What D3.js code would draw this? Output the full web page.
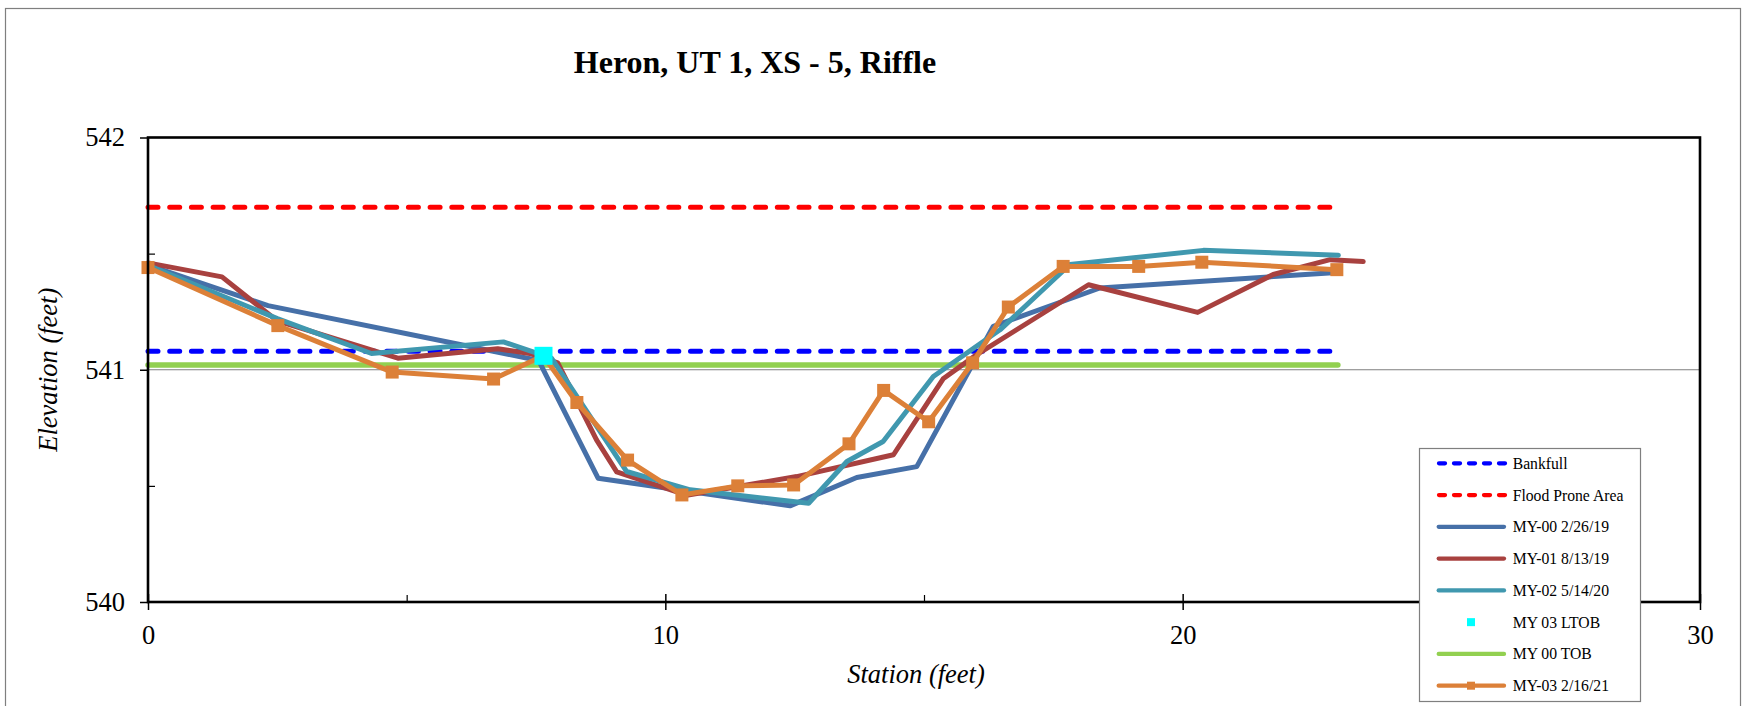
<!DOCTYPE html>
<html>
<head>
<meta charset="utf-8">
<script src="https://cdn.jsdelivr.net/npm/d3@7"></script>
<style>
  html, body { margin: 0; padding: 0; background: #fff; }
  svg { display: block; }
  text { font-family: "Liberation Serif", "Times New Roman", serif; fill: #000; }
</style>
</head>
<body>
<svg id="chart" width="1743" height="706"></svg>
<script>
// ---------------- DATA ----------------
const chartTitle = "Heron, UT 1, XS - 5, Riffle";
const xTicks = [0, 10, 20, 30];
const yTicks = [540, 541, 542];
const xMinorTicks = [5, 15, 25];
const yMinorTicks = [540.5, 541.5];

const bankfullX = [0, 23];
const bankfullY = [541.08, 541.08];
const floodX = [0, 23];
const floodY = [541.70, 541.70];
const tobX = [0, 23];
const tobY = [541.02, 541.02];

const my00X = [0, 2.32, 7.55, 8.70, 12.41, 13.70, 14.86, 16.34, 18.40, 22.98];
const my00Y = [541.45, 541.276, 541.04, 540.533, 540.414, 540.536, 540.583, 541.187, 541.352, 541.419];

const my01X = [0, 1.43, 2.5, 4.83, 6.76, 7.38, 7.92, 8.67, 9.06, 10.41, 12.54, 14.41, 15.37, 16.02, 18.18, 20.29, 21.75, 22.85, 23.49];
const my01Y = [541.46, 541.40, 541.21, 541.05, 541.09, 541.07, 541.03, 540.698, 540.56, 540.46, 540.54, 540.634, 540.961, 541.065, 541.366, 541.247, 541.41, 541.474, 541.466];

const my02X = [0, 2.5, 4.32, 6.87, 7.8, 9.25, 10.48, 12.77, 13.51, 14.21, 15.18, 16.47, 17.82, 20.40, 23.01];
const my02Y = [541.45, 541.22, 541.07, 541.12, 541.05, 540.562, 540.483, 540.425, 540.605, 540.691, 540.971, 541.172, 541.453, 541.514, 541.493];

const ltobX = [7.645];
const ltobY = [541.06];

const my03X = [0, 2.51, 4.72, 6.68, 7.64, 8.29, 9.27, 10.32, 11.40, 12.48, 13.55, 14.22, 15.09, 15.94, 16.63, 17.69, 19.15, 20.37, 22.98];
const my03Y = [541.44, 541.19, 540.99, 540.96, 541.06, 540.859, 540.611, 540.461, 540.50, 540.504, 540.681, 540.911, 540.776, 541.03, 541.27, 541.445, 541.445, 541.463, 541.431];

const legendLabels = ["Bankfull", "Flood Prone Area", "MY-00 2/26/19", "MY-01 8/13/19", "MY-02 5/14/20", "MY 03 LTOB", "MY 00 TOB", "MY-03 2/16/21"];

// ---------------- STYLE ----------------
const C = {
  bankfull: "#0000FF", flood: "#FF0000", my00: "#4670A8", my01: "#A8413F",
  my02: "#4098AF", ltob: "#00FFFF", tob: "#92D050", my03: "#DC8038"
};

const svg = d3.select("#chart");
const W = 1743, H = 706;
const plot = { left: 148, right: 1700, top: 137.5, bottom: 602 };

const x = d3.scaleLinear().domain([0, 30]).range([plot.left, plot.right]);
const y = d3.scaleLinear().domain([540, 542]).range([plot.bottom, plot.top]);

// outer frame
svg.append("rect").attr("x", 0).attr("y", 0).attr("width", W).attr("height", H).attr("fill", "#fff");
svg.append("rect").attr("x", 5.5).attr("y", 8.5).attr("width", 1735).attr("height", 740)
  .attr("fill", "none").attr("stroke", "#7f7f7f").attr("stroke-width", 1.2);

// title
svg.append("text").attr("x", 755).attr("y", 73).attr("text-anchor", "middle")
  .attr("font-size", 32).attr("font-weight", "bold").text(chartTitle);

// gridline at 541
svg.append("g").selectAll("line").data(yTicks.filter(d => d !== 540 && d !== 542)).join("line")
  .attr("x1", plot.left).attr("x2", plot.right).attr("y1", d => y(d)).attr("y2", d => y(d))
  .attr("stroke", "#7f7f7f").attr("stroke-width", 1.2);

// axes via d3
const yAxis = d3.axisLeft(y).tickValues(yTicks).tickSize(8).tickPadding(15).tickFormat(d3.format("d"));
const gy = svg.append("g").attr("transform", `translate(${plot.left},0)`).call(yAxis);
gy.select(".domain").remove();
gy.selectAll(".tick line").attr("stroke", "#000").attr("stroke-width", 1.5);
gy.selectAll(".tick text").attr("font-size", 26.5).attr("font-family", "Liberation Serif, Times New Roman, serif").attr("fill", "#000");

const yMinor = d3.axisRight(y).tickValues(yMinorTicks).tickSize(7).tickFormat("");
const gym = svg.append("g").attr("transform", `translate(${plot.left},0)`).call(yMinor);
gym.select(".domain").remove();
gym.selectAll(".tick line").attr("stroke", "#000").attr("stroke-width", 1.2);

const xAxis = d3.axisBottom(x).tickValues(xTicks).tickSize(8).tickPadding(15).tickFormat(d3.format("d"));
const gx = svg.append("g").attr("transform", `translate(0,${plot.bottom})`).call(xAxis);
gx.select(".domain").remove();
gx.selectAll(".tick line").attr("stroke", "#000").attr("stroke-width", 1.5).attr("y1", -8);
gx.selectAll(".tick text").attr("font-size", 26.5).attr("font-family", "Liberation Serif, Times New Roman, serif").attr("fill", "#000");

const xMinor = d3.axisTop(x).tickValues(xMinorTicks).tickSize(7).tickFormat("");
const gxm = svg.append("g").attr("transform", `translate(0,${plot.bottom})`).call(xMinor);
gxm.select(".domain").remove();
gxm.selectAll(".tick line").attr("stroke", "#000").attr("stroke-width", 1.2);

// axis titles
svg.append("text").attr("x", 916).attr("y", 683).attr("text-anchor", "middle")
  .attr("font-size", 26.5).attr("font-style", "italic").text("Station (feet)");
svg.append("text").attr("transform", `translate(57,${(plot.top + plot.bottom) / 2}) rotate(-90)`)
  .attr("text-anchor", "middle").attr("font-size", 26.5).attr("font-style", "italic").text("Elevation (feet)");

// series
const line = d3.line().x(d => x(d[0])).y(d => y(d[1]));
const zip = (a, b) => a.map((v, i) => [v, b[i]]);
const g = svg.append("g");

function drawLine(xs, ys, color, width, dash) {
  const p = g.append("path").datum(zip(xs, ys)).attr("d", line)
    .attr("fill", "none").attr("stroke", color).attr("stroke-width", width)
    .attr("stroke-linejoin", "round").attr("stroke-linecap", "round");
  if (dash) p.attr("stroke-dasharray", dash);
  return p;
}

drawLine(bankfullX, bankfullY, C.bankfull, 5, "10 11.7");
drawLine(floodX, floodY, C.flood, 5, "10 11.7");
drawLine(tobX, tobY, C.tob, 5.5);
drawLine(my00X, my00Y, C.my00, 5);
drawLine(my01X, my01Y, C.my01, 5);
drawLine(my02X, my02Y, C.my02, 5);
drawLine(my03X, my03Y, C.my03, 5);
g.append("g").selectAll("rect").data(zip(my03X, my03Y)).join("rect")
  .attr("x", d => x(d[0]) - 6.5).attr("y", d => y(d[1]) - 6.5)
  .attr("width", 13).attr("height", 13).attr("fill", C.my03);
g.append("g").selectAll("rect").data(zip(ltobX, ltobY)).join("rect")
  .attr("x", d => x(d[0]) - 9).attr("y", d => y(d[1]) - 9)
  .attr("width", 18).attr("height", 18).attr("fill", C.ltob);

// plot frame
svg.append("rect").attr("x", plot.left).attr("y", plot.top)
  .attr("width", plot.right - plot.left).attr("height", plot.bottom - plot.top)
  .attr("fill", "none").attr("stroke", "#000").attr("stroke-width", 2.6);

// legend
const lg = svg.append("g");
lg.append("rect").attr("x", 1419.5).attr("y", 448.5).attr("width", 221).attr("height", 253)
  .attr("fill", "#fff").attr("stroke", "#7f7f7f").attr("stroke-width", 1.2);
const legendStyle = [
  { c: C.bankfull, type: "dash" }, { c: C.flood, type: "dash" },
  { c: C.my00, type: "line" }, { c: C.my01, type: "line" }, { c: C.my02, type: "line" },
  { c: C.ltob, type: "marker" }, { c: C.tob, type: "line" }, { c: C.my03, type: "linemarker" }
];
legendLabels.forEach((lab, i) => {
  const ry = 463.3 + i * 31.77;
  const s = legendStyle[i];
  if (s.type === "dash") {
    lg.append("line").attr("x1", 1439).attr("x2", 1505).attr("y1", ry).attr("y2", ry)
      .attr("stroke", s.c).attr("stroke-width", 4.3).attr("stroke-linecap", "round").attr("stroke-dasharray", "6 9");
  } else if (s.type === "line" || s.type === "linemarker") {
    lg.append("line").attr("x1", 1438.7).attr("x2", 1504).attr("y1", ry).attr("y2", ry)
      .attr("stroke", s.c).attr("stroke-width", 4.3).attr("stroke-linecap", "round");
  }
  if (s.type === "marker" || s.type === "linemarker") {
    lg.append("rect").attr("x", 1471 - 4).attr("y", ry - 4).attr("width", 8).attr("height", 8).attr("fill", s.c);
  }
  lg.append("text").attr("x", 1512.7).attr("y", ry + 5.5).attr("font-size", 15.7).text(lab);
});
</script>
</body>
</html>
